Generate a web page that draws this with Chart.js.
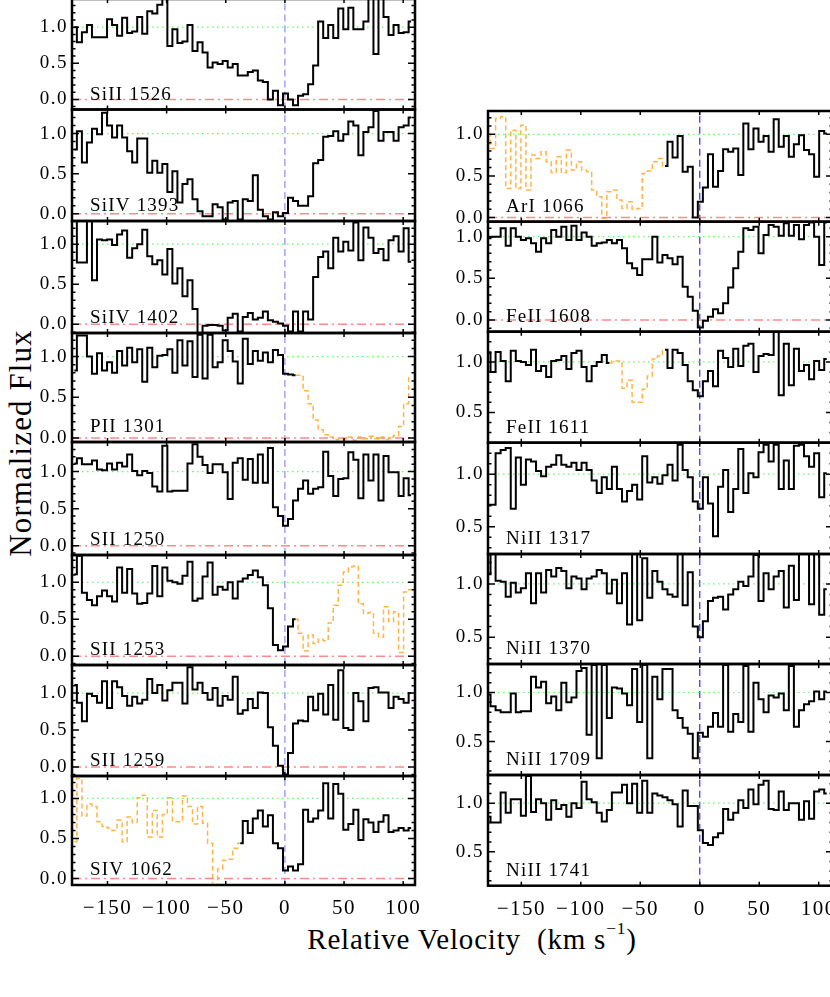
<!DOCTYPE html>
<html>
<head>
<meta charset="utf-8">
<title>Velocity profiles</title>
<script src="https://cdn.jsdelivr.net/npm/chart.js@4.4.0/dist/chart.umd.min.js"></script>
<style>
  html, body { margin: 0; padding: 0; background: #fff; overflow: hidden; }
  #fig { position: relative; width: 830px; height: 997px; overflow: hidden; background: #fff; }
  #fig canvas { position: absolute; }
  #ytitle {
    position: absolute; left: 21px; top: 443px;
    transform: translate(-50%, -50%) rotate(-90deg);
    font: 31px "Liberation Serif"; letter-spacing: 1.1px; white-space: nowrap; color: #000;
  }
  #xtitle {
    position: absolute; left: 472px; top: 939px;
    transform: translate(-50%, -50%);
    font: 29px "Liberation Serif"; letter-spacing: 0.8px; white-space: nowrap; color: #000;
  }
  #xtitle sup { font-size: 60%; position: relative; top: -0.3em; vertical-align: top; }
</style>
</head>
<body>
<div id="fig">
  <div id="ytitle">Normalized Flux</div>
  <div id="xtitle">Relative Velocity&nbsp; (km s<sup>&minus;1</sup>)</div>
</div>
<script>
'use strict';

// velocity bin centres (km/s), same grid for every transition
const vel = [
  -178.0, -173.75, -169.5, -165.25, -161.0, -156.75, -152.5, -148.25, -144.0, -139.75,
  -135.5, -131.25, -127.0, -122.75, -118.5, -114.25, -110.0, -105.75, -101.5, -97.25,
  -93.0, -88.75, -84.5, -80.25, -76.0, -71.75, -67.5, -63.25, -59.0, -54.75,
  -50.5, -46.25, -42.0, -37.75, -33.5, -29.25, -25.0, -20.75, -16.5, -12.25,
  -8.0, -3.75, 0.5, 4.75, 9.0, 13.25, 17.5, 21.75, 26.0, 30.25,
  34.5, 38.75, 43.0, 47.25, 51.5, 55.75, 60.0, 64.25, 68.5, 72.75,
  77.0, 81.25, 85.5, 89.75, 94.0, 98.25, 102.5, 106.75
];

// normalized flux, left column
const siII1526 = [
  1.00, 0.79, 0.93, 1.03, 0.86, 0.86, 0.86, 1.11, 1.03, 0.88,
  1.13, 0.92, 0.94, 1.14, 0.91, 1.22, 1.19, 1.31, 1.45, 0.74,
  0.97, 0.78, 0.80, 1.03, 0.67, 0.79, 0.65, 0.44, 0.51, 0.49,
  0.53, 0.44, 0.49, 0.33, 0.33, 0.38, 0.40, 0.26, 0.24, 0.00,
  0.12, -0.08, 0.08, 0.00, -0.08, 0.05, 0.07, 0.21, 0.47, 1.08,
  0.85, 1.03, 0.85, 1.26, 0.97, 1.27, 0.97, 0.97, 1.08, 1.45,
  0.63, 1.45, 1.14, 0.89, 1.03, 0.92, 0.93, 1.08
];
const siIV1393 = [
  0.80, 1.03, 0.64, 0.89, 1.06, 0.99, 1.26, 1.10, 0.95, 1.10,
  0.95, 0.78, 0.64, 0.94, 0.94, 0.51, 0.66, 0.51, 0.62, 0.27,
  0.53, 0.14, 0.37, 0.43, 0.18, 0.03, -0.03, -0.03, 0.12, 0.08,
  -0.07, 0.14, 0.16, -0.07, 0.18, 0.16, 0.48, 0.05, -0.03, -0.07,
  0.02, -0.03, 0.01, 0.20, 0.16, 0.10, 0.10, 0.22, 0.63, 0.67,
  0.96, 0.97, 1.03, 0.91, 0.99, 1.15, 1.10, 0.73, 1.02, 1.08,
  1.28, 0.91, 1.02, 1.02, 0.91, 1.08, 1.10, 1.20
];
const siIV1402 = [
  1.35, 0.77, 0.77, 1.35, 0.55, 1.06, 1.05, 1.06, 0.99, 1.12,
  1.17, 0.83, 0.95, 1.00, 1.18, 0.85, 0.75, 0.80, 0.62, 0.94,
  0.51, 0.70, 0.35, 0.55, 0.19, -0.11, -0.02, -0.01, -0.01, -0.02,
  -0.08, 0.08, 0.13, -0.09, 0.09, 0.14, 0.06, 0.08, 0.16, 0.05,
  0.03, 0.01, -0.02, -0.09, 0.16, -0.09, 0.16, 0.06, 0.59, 0.84,
  0.91, 0.70, 1.08, 0.91, 1.03, 0.92, 1.27, 0.80, 1.21, 1.08,
  0.89, 0.94, 0.80, 1.05, 1.10, 0.91, 1.20, 0.78
];
const pII1301 = [
  0.83, 1.26, 1.26, 1.00, 0.79, 1.04, 0.83, 0.93, 0.80, 1.07,
  0.89, 1.11, 0.93, 1.09, 0.69, 1.11, 0.87, 1.01, 1.02, 1.09,
  0.80, 1.20, 0.89, 1.19, 0.75, 1.27, 0.73, 1.27, 0.87, 0.93,
  1.20, 1.07, 0.94, 0.67, 1.22, 0.91, 1.07, 0.95, 1.05, 0.93,
  1.08, 1.02, 0.79, 0.78, 0.77, 0.77, 0.58, 0.42, 0.22, 0.10,
  0.04, 0.01, -0.02, -0.01, -0.02, 0.01, -0.03, 0.01, -0.01, 0.02,
  -0.01, 0.01, -0.02, 0.01, 0.03, 0.14, 0.42, 0.75
];
const sII1250 = [
  1.11, 1.18, 1.10, 1.10, 1.15, 1.03, 1.02, 1.11, 1.03, 1.12,
  1.07, 1.23, 1.01, 0.95, 1.01, 0.98, 0.80, 0.73, 1.35, 0.73,
  0.74, 0.74, 0.74, 1.11, 1.37, 1.20, 1.09, 0.98, 1.10, 1.10,
  0.99, 0.63, 1.12, 1.18, 0.89, 1.17, 0.85, 1.23, 0.85, 1.32,
  0.52, 0.40, 0.27, 0.36, 0.61, 0.77, 0.88, 0.70, 0.77, 0.79,
  1.27, 0.94, 0.67, 0.90, 0.91, 1.26, 1.16, 0.64, 1.23, 0.88,
  1.23, 0.61, 1.21, 0.99, 0.99, 0.67, 0.91, 0.68
];
const sII1253 = [
  1.11, 1.36, 0.86, 0.76, 0.69, 0.81, 0.89, 0.81, 0.74, 1.20,
  0.86, 1.18, 0.85, 0.71, 0.72, 0.85, 1.22, 0.81, 1.20, 1.02,
  1.00, 0.98, 1.09, 1.28, 0.75, 0.78, 1.08, 1.27, 0.83, 0.94,
  0.90, 1.00, 0.78, 1.01, 1.05, 1.10, 1.16, 1.07, 0.96, 0.65,
  0.15, 0.08, 0.13, 0.40, 0.50, 0.31, 0.07, 0.29, 0.17, 0.23,
  0.21, 0.45, 0.69, 0.96, 1.14, 1.21, 1.22, 0.71, 0.58, 0.59,
  0.31, 0.26, 0.67, 0.47, 0.60, 0.05, 0.87, 0.90
];
const sII1259 = [
  1.11, 0.87, 0.62, 0.99, 0.96, 0.87, 1.16, 0.80, 1.16, 1.08,
  0.96, 0.83, 0.95, 0.86, 0.91, 1.19, 1.00, 1.11, 0.90, 1.04,
  1.14, 1.14, 0.86, 1.35, 1.05, 1.14, 1.00, 0.91, 1.07, 0.83,
  0.96, 0.91, 1.22, 0.72, 0.77, 0.92, 0.80, 1.01, 1.00, 0.54,
  0.29, 0.02, -0.10, 0.19, 0.59, 0.63, 0.62, 0.95, 0.77, 0.99,
  0.71, 1.11, 0.64, 1.31, 0.53, 0.50, 1.00, 0.89, 0.62, 1.07,
  1.08, 1.01, 1.01, 0.80, 0.95, 0.92, 0.87, 1.00
];
const sIV1062 = [
  0.46, 1.25, 0.78, 0.93, 0.90, 0.71, 0.65, 0.63, 0.60, 0.73,
  0.46, 0.77, 0.70, 1.01, 1.04, 0.52, 0.85, 0.52, 0.80, 1.01,
  0.71, 0.71, 1.03, 0.90, 0.68, 0.90, 0.69, 0.44, -0.10, 0.12,
  0.23, 0.24, 0.38, 0.44, 0.72, 0.57, 0.75, 0.85, 0.65, 0.79,
  0.44, 0.38, 0.10, 0.15, 0.10, 0.18, 0.86, 0.71, 0.75, 0.85,
  1.19, 0.75, 1.18, 1.06, 0.61, 0.68, 0.86, 0.48, 0.74, 0.70,
  0.58, 0.71, 0.79, 0.58, 0.60, 0.63, 0.60, 0.63
];

// normalized flux, right column
const arI1066 = [
  1.00, 0.83, 1.19, 1.21, 0.35, 1.05, 0.35, 1.11, 0.33, 0.75,
  0.71, 0.79, 0.67, 0.54, 0.73, 0.54, 0.81, 0.57, 0.67, 0.57,
  0.55, 0.33, 0.25, -0.01, 0.31, 0.33, 0.21, 0.11, 0.19, 0.10,
  0.11, 0.53, 0.56, 0.67, 0.71, 0.62, 0.91, 0.72, 0.98, 0.55,
  0.61, 0.00, 0.19, 0.36, 0.76, 0.37, 0.56, 0.82, 0.79, 0.83,
  0.51, 1.13, 0.82, 1.07, 0.91, 0.98, 0.79, 1.18, 0.85, 0.98,
  0.73, 0.88, 0.99, 0.81, 0.76, 0.49, 1.04, 1.01
];
const feII1608 = [
  0.98, 1.00, 1.00, 1.10, 0.89, 1.10, 1.00, 0.96, 0.98, 0.92,
  0.82, 0.98, 0.92, 1.08, 1.00, 1.12, 0.96, 1.13, 0.96, 1.05,
  1.00, 0.89, 0.92, 0.93, 0.96, 0.92, 0.96, 0.86, 0.68, 0.62,
  0.54, 0.73, 0.73, 1.00, 0.69, 0.78, 0.74, 0.67, 0.76, 0.40,
  0.28, 0.11, -0.09, -0.01, 0.04, 0.13, 0.08, 0.20, 0.39, 0.62,
  0.82, 1.10, 1.08, 1.12, 0.80, 1.02, 1.14, 1.12, 1.01, 1.16,
  1.01, 1.14, 0.97, 1.14, 1.17, 1.00, 0.66, 1.17
];
const feII1611 = [
  1.09, 0.90, 1.10, 1.01, 0.81, 1.11, 1.01, 1.00, 0.97, 1.12,
  0.91, 0.96, 0.85, 1.01, 1.02, 1.06, 0.93, 1.09, 1.11, 0.95,
  0.81, 0.96, 1.00, 1.07, 0.99, 1.01, 1.01, 0.74, 0.82, 0.60,
  0.60, 0.73, 0.86, 1.03, 1.06, 1.12, 0.94, 1.12, 1.09, 0.97,
  0.81, 0.72, 0.66, 0.81, 0.91, 0.76, 1.11, 1.04, 0.95, 1.13,
  0.96, 1.16, 1.18, 0.90, 1.06, 1.08, 1.07, 1.32, 0.67, 1.18,
  0.77, 1.13, 0.91, 0.97, 0.83, 1.01, 0.92, 1.03
];
const niII1317 = [
  0.71, 0.71, 1.20, 1.23, 1.25, 0.67, 1.16, 0.90, 1.14, 1.12,
  1.03, 0.98, 1.07, 1.09, 1.18, 1.09, 1.07, 1.11, 1.04, 1.11,
  1.04, 0.94, 0.82, 0.97, 0.86, 1.07, 0.86, 0.74, 0.84, 0.90,
  0.76, 1.17, 0.92, 0.97, 0.91, 0.99, 1.09, 0.94, 1.28, 1.04,
  0.97, 0.74, 0.67, 0.97, 0.72, 0.41, 0.88, 1.04, 0.64, 0.86,
  1.24, 0.82, 1.01, 0.97, 1.21, 1.28, 1.12, 1.28, 0.86, 1.13,
  0.86, 1.27, 1.28, 1.17, 1.07, 1.20, 0.78, 1.01
];
const niII1370 = [
  1.09, 1.28, 1.03, 1.02, 0.88, 1.01, 0.92, 0.96, 1.10, 0.82,
  1.10, 0.92, 1.13, 1.07, 1.15, 1.12, 0.96, 1.07, 1.05, 0.95,
  1.05, 1.07, 1.13, 1.10, 0.91, 1.04, 0.82, 1.10, 0.62, 1.28,
  0.66, 1.24, 0.87, 1.12, 1.02, 0.95, 0.90, 0.88, 1.28, 0.80,
  1.11, 0.60, 0.50, 0.65, 0.84, 0.87, 0.88, 0.76, 0.90, 0.95,
  1.02, 0.98, 1.07, 1.27, 0.84, 1.10, 0.95, 1.07, 1.12, 0.78,
  1.17, 0.85, 1.28, 1.28, 0.81, 1.28, 0.71, 0.95
];
const niII1709 = [
  0.98, 0.86, 0.82, 0.80, 0.80, 0.99, 0.80, 0.81, 0.81, 1.16,
  1.05, 1.11, 0.89, 0.96, 0.82, 1.10, 0.90, 0.95, 1.22, 1.25,
  0.57, 1.28, 0.33, 1.28, 0.74, 1.05, 1.04, 0.99, 0.87, 1.24,
  0.70, 1.28, 0.33, 1.16, 0.93, 1.24, 1.24, 0.82, 0.74, 0.64,
  0.58, 0.33, 0.59, 0.55, 0.65, 0.79, 0.65, 1.28, 0.60, 0.78,
  0.70, 1.27, 0.60, 1.10, 0.93, 0.80, 0.97, 0.95, 0.99, 0.82,
  1.27, 0.65, 0.82, 0.88, 0.91, 1.01, 0.93, 1.01
];
const niII1741 = [
  0.86, 0.80, 0.80, 1.11, 0.90, 1.04, 1.04, 0.87, 1.28, 0.91,
  1.04, 1.00, 0.83, 1.03, 0.94, 0.98, 0.86, 1.00, 0.95, 1.22,
  1.04, 1.01, 0.90, 0.81, 0.93, 1.11, 1.11, 1.19, 1.00, 1.20,
  0.90, 1.23, 0.90, 1.10, 1.08, 1.06, 1.03, 0.99, 0.76, 1.13,
  0.97, 0.97, 0.72, 0.59, 0.57, 0.65, 0.69, 0.94, 0.83, 0.90,
  1.03, 0.95, 1.14, 0.99, 1.19, 1.23, 0.94, 0.93, 1.12, 0.93,
  1.00, 1.00, 0.83, 1.02, 0.84, 1.12, 1.14, 1.10
];

const xTicks = [-150, -100, -50, 0, 50, 100];
const yTicksFull = [0, 0.5, 1.0];
const yTicksUpper = [0.5, 1.0];

// column geometry (page pixels) and velocity window
const columns = [
  { left: 0, plotLeft: 72, plotRight: 415, xMin: -180, xMax: 110, zeroColor: '#8c8cff' },
  { left: 420, plotLeft: 488, plotRight: 833, xMin: -178, xMax: 112, zeroColor: '#2b2bff' }
];

// blend = [first bin, last bin] drawn as blended (orange dashed)
const panels = [
  { col: 0, label: 'SiII 1526', flux: siII1526, blend: null, yMin: -0.14, yMax: 1.39, yTicks: yTicksFull, top: -1, bottom: 109.5 },
  { col: 0, label: 'SiIV 1393', flux: siIV1393, blend: null, yMin: -0.09, yMax: 1.30, yTicks: yTicksFull, top: 109.5, bottom: 221 },
  { col: 0, label: 'SiIV 1402', flux: siIV1402, blend: null, yMin: -0.11, yMax: 1.29, yTicks: yTicksFull, top: 221, bottom: 333 },
  { col: 0, label: 'PII 1301', flux: pII1301, blend: [44, 67], yMin: -0.05, yMax: 1.29, yTicks: yTicksFull, top: 333, bottom: 442 },
  { col: 0, label: 'SII 1250', flux: sII1250, blend: null, yMin: -0.126, yMax: 1.40, yTicks: yTicksFull, top: 442, bottom: 555 },
  { col: 0, label: 'SII 1253', flux: sII1253, blend: [44, 67], yMin: -0.12, yMax: 1.37, yTicks: yTicksFull, top: 555, bottom: 665 },
  { col: 0, label: 'SII 1259', flux: sII1259, blend: null, yMin: -0.12, yMax: 1.38, yTicks: yTicksFull, top: 665, bottom: 776 },
  { col: 0, label: 'SIV 1062', flux: sIV1062, blend: [0, 33], yMin: -0.08, yMax: 1.28, yTicks: yTicksFull, top: 776, bottom: 885, xLabels: true },
  { col: 1, label: 'ArI 1066', flux: arI1066, blend: [0, 35], yMin: -0.05, yMax: 1.28, yTicks: yTicksFull, top: 111, bottom: 221.7 },
  { col: 1, label: 'FeII 1608', flux: feII1608, blend: null, yMin: -0.14, yMax: 1.18, yTicks: yTicksFull, top: 221.7, bottom: 331.7 },
  { col: 1, label: 'FeII 1611', flux: feII1611, blend: [24, 35], yMin: 0.20, yMax: 1.30, yTicks: yTicksUpper, top: 331.7, bottom: 442.7 },
  { col: 1, label: 'NiII 1317', flux: niII1317, blend: null, yMin: 0.24, yMax: 1.30, yTicks: yTicksUpper, top: 442.7, bottom: 554 },
  { col: 1, label: 'NiII 1370', flux: niII1370, blend: null, yMin: 0.25, yMax: 1.28, yTicks: yTicksUpper, top: 554, bottom: 664 },
  { col: 1, label: 'NiII 1709', flux: niII1709, blend: null, yMin: 0.16, yMax: 1.29, yTicks: yTicksUpper, top: 664, bottom: 775 },
  { col: 1, label: 'NiII 1741', flux: niII1741, blend: null, yMin: 0.15, yMax: 1.29, yTicks: yTicksUpper, top: 775, bottom: 885.7, xLabels: true }
];

Chart.defaults.font.family = '"Liberation Serif", "Times New Roman", serif';
Chart.defaults.color = '#000';

// box round the panel, inward ticks, and the ion label
const framePlugin = {
  id: 'frame',
  beforeDraw: function (chart) {
    chart.ctx.letterSpacing = '1.5px';
  },
  afterDraw: function (chart, args, opts) {
    const ctx = chart.ctx;
    const a = chart.chartArea;
    const xs = chart.scales.x;
    const ys = chart.scales.y;
    ctx.save();
    ctx.strokeStyle = '#000';
    ctx.lineWidth = 1.5;
    ctx.beginPath();
    // y ticks every 0.1, longer at each 0.5
    for (let k = Math.ceil(ys.min * 10); k <= Math.floor(ys.max * 10); k++) {
      const py = ys.getPixelForValue(k / 10);
      const len = (k % 5 === 0) ? 7 : 3.5;
      ctx.moveTo(a.left, py); ctx.lineTo(a.left + len, py);
      ctx.moveTo(a.right, py); ctx.lineTo(a.right - len, py);
    }
    xTicks.forEach(function (v) {
      const px = xs.getPixelForValue(v);
      ctx.moveTo(px, a.top); ctx.lineTo(px, a.top + 4);
      ctx.moveTo(px, a.bottom); ctx.lineTo(px, a.bottom - 4);
    });
    ctx.stroke();
    ctx.lineWidth = 2.5;
    ctx.strokeRect(a.left, a.top, a.right - a.left, a.bottom - a.top);

    ctx.fillStyle = '#000';
    ctx.font = '19px "Liberation Serif"';
    ctx.letterSpacing = '1.2px';
    ctx.textBaseline = 'alphabetic';
    ctx.textAlign = 'left';
    ctx.fillText(opts.label, a.left + 18, a.bottom - 10);
    ctx.restore();
  }
};

function stepSet(points, color, width, dash) {
  return {
    data: points, borderColor: color, borderWidth: width, borderDash: dash,
    stepped: 'middle', pointRadius: 0, fill: false, spanGaps: false, order: 0
  };
}

function refSet(points, color, width, dash) {
  return {
    data: points, borderColor: color, borderWidth: width, borderDash: dash,
    pointRadius: 0, fill: false, order: 1
  };
}

const fig = document.getElementById('fig');

panels.forEach(function (p) {
  const col = columns[p.col];
  const xAxisH = p.xLabels ? 44 : 0;
  const cTop = Math.floor(p.top) - 6;
  const width = col.plotRight - col.left + 6;
  const height = Math.ceil(p.bottom) - cTop + 6 + xAxisH;

  const canvas = document.createElement('canvas');
  canvas.width = width;
  canvas.height = height;
  canvas.style.left = col.left + 'px';
  canvas.style.top = cTop + 'px';
  fig.appendChild(canvas);

  // split the spectrum into unblended (black) and blended (orange) parts
  const main = [];
  const blended = [];
  p.flux.forEach(function (f, i) {
    const inBlend = p.blend && i >= p.blend[0] && i <= p.blend[1];
    const edge = p.blend && (i === p.blend[0] || i === p.blend[1]);
    main.push({ x: vel[i], y: (!inBlend || edge) ? f : null });
    blended.push({ x: vel[i], y: inBlend ? f : null });
  });

  const datasets = [stepSet(main, '#000', 2, [])];
  if (p.blend) {
    datasets.push(stepSet(blended, 'rgba(255, 168, 40, 0.85)', 1.5, [5, 3]));
  }
  datasets.push(refSet([{ x: col.xMin, y: 1 }, { x: col.xMax, y: 1 }], '#62ff62', 1.2, [1.5, 3.5]));
  if (p.yMin < 0) {
    datasets.push(refSet([{ x: col.xMin, y: 0 }, { x: col.xMax, y: 0 }], '#ff8a8a', 1.5, [9, 4, 2, 4]));
  }
  datasets.push(refSet([{ x: 0, y: p.yMin }, { x: 0, y: p.yMax }], col.zeroColor, 1.2, [7, 4]));

  new Chart(canvas, {
    type: 'line',
    data: { datasets: datasets },
    options: {
      responsive: false,
      animation: false,
      devicePixelRatio: 1,
      events: [],
      layout: {
        autoPadding: false,
        padding: {
          top: p.top - cTop,
          bottom: height - xAxisH - (p.bottom - cTop),
          left: 0,
          right: 6
        }
      },
      plugins: {
        legend: { display: false },
        tooltip: { enabled: false },
        frame: { label: p.label }
      },
      scales: {
        x: {
          type: 'linear',
          min: col.xMin,
          max: col.xMax,
          display: !!p.xLabels,
          afterBuildTicks: function (s) { s.ticks = xTicks.map(function (v) { return { value: v }; }); },
          afterFit: function (s) { s.height = xAxisH; s.paddingLeft = 0; s.paddingRight = 0; },
          grid: { display: false, drawTicks: false },
          border: { display: false },
          ticks: {
            font: { size: 21 },
            padding: 11,
            maxRotation: 0,
            autoSkip: false,
            callback: function (v) { return v < 0 ? '\u2212' + Math.abs(v) : String(v); }
          }
        },
        y: {
          type: 'linear',
          min: p.yMin,
          max: p.yMax,
          afterBuildTicks: function (s) { s.ticks = p.yTicks.map(function (v) { return { value: v }; }); },
          afterFit: function (s) { s.width = col.plotLeft - col.left; s.paddingTop = 0; s.paddingBottom = 0; },
          grid: { display: false, drawTicks: false },
          border: { display: false },
          ticks: {
            font: { size: 19 },
            padding: 4,
            autoSkip: false,
            callback: function (v) { return v.toFixed(1); }
          }
        }
      }
    },
    plugins: [framePlugin]
  });
});
</script>
</body>
</html>
